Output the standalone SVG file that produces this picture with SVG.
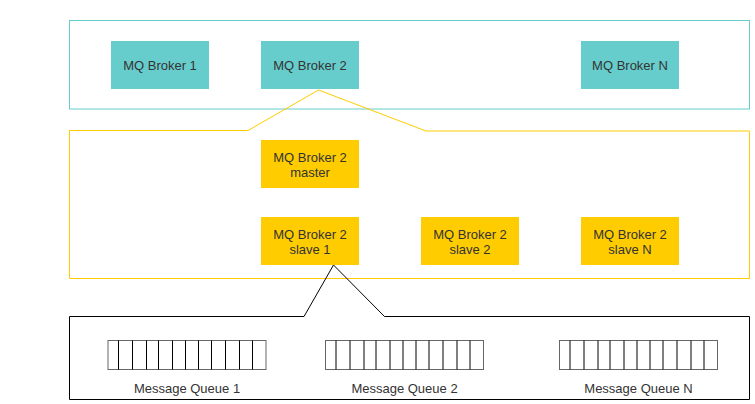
<svg xmlns="http://www.w3.org/2000/svg" width="755" height="404" viewBox="0 0 755 404">
<style>
.t{font-family:"Liberation Sans",Arial,sans-serif;font-size:13px;fill:#333;text-anchor:middle}
.teal{fill:#67CDCC}
.yel{fill:#FFCC00}
.q{fill:#fff;stroke:#666;stroke-width:1}
.c{stroke:#000;stroke-width:1}
</style>
<defs>
<g id="queue">
<rect class="q" x="0" y="0" width="158" height="29"/>
<path class="c" d="M10.5 0V29M24.5 0V29M38.5 0V29M50.5 0V29M64.5 0V29M77.5 0V29M90.5 0V29M103.5 0V29M117.5 0V29M131.5 0V29M144.5 0V29"/>
</g>
</defs>
<g id="containers">
<rect id="cluster" x="69.5" y="20.5" width="680" height="88.5" fill="none" stroke="#67CDCC" stroke-width="1"/>
<path id="broker2-detail" d="M69.5 130.5H248L318.5 90L426 131H749.5V278.5H69.5Z" fill="none" stroke="#FFCC00" stroke-width="1"/>
<path id="slave1-detail" d="M69.5 316.5H304L333.5 265L384.5 316.5H749.5V399.5H69.5Z" fill="none" stroke="#000" stroke-width="1"/>
</g>
<g id="connectors"></g>
<g id="broker1"><rect class="teal" x="111" y="41" width="98" height="48"/><text class="t" x="160" y="69.5">MQ Broker 1</text></g>
<g id="broker2"><rect class="teal" x="261" y="41" width="98" height="48"/><text class="t" x="310" y="69.5">MQ Broker 2</text></g>
<g id="brokerN"><rect class="teal" x="581" y="41" width="98" height="48"/><text class="t" x="630" y="69.5">MQ Broker N</text></g>
<g id="master"><rect class="yel" x="261" y="140" width="98" height="48"/><text class="t" x="310" y="161.5">MQ Broker 2</text><text class="t" x="310" y="177">master</text></g>
<g id="slave1"><rect class="yel" x="261" y="217" width="98" height="48"/><text class="t" x="310" y="238.5">MQ Broker 2</text><text class="t" x="310" y="254">slave 1</text></g>
<g id="slave2"><rect class="yel" x="421" y="217" width="98" height="48"/><text class="t" x="470" y="238.5">MQ Broker 2</text><text class="t" x="470" y="254">slave 2</text></g>
<g id="slaveN"><rect class="yel" x="581" y="217" width="98" height="48"/><text class="t" x="630" y="238.5">MQ Broker 2</text><text class="t" x="630" y="254">slave N</text></g>
<g id="queue1"><use href="#queue" x="108" y="340.5"/><text class="t" x="187" y="393">Message Queue 1</text></g>
<g id="queue2"><use href="#queue" x="325.5" y="340.5"/><text class="t" x="404.5" y="393">Message Queue 2</text></g>
<g id="queueN"><use href="#queue" x="559.5" y="340.5"/><text class="t" x="638.5" y="393">Message Queue N</text></g>
</svg>
